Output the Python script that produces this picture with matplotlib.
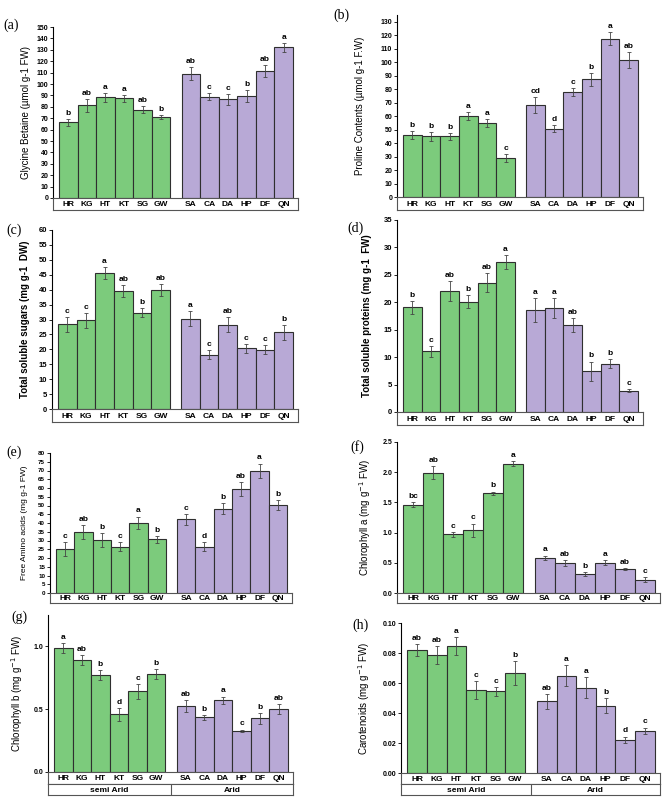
import numpy as np
import matplotlib
matplotlib.use("Agg")
import matplotlib.pyplot as plt
from matplotlib.patches import Rectangle

plt.rcParams['font.family'] = ['Liberation Sans', 'DejaVu Sans']

sites = ["HR", "KG", "HT", "KT", "SG", "GW", "SA", "CA", "DA", "HP", "DF", "QN"]
zones = ["semi Arid", "Arid"]

# (a) glycine betaine
gb = [66.3, 81.2, 88.3, 87.4, 77.4, 71.0, 109.1, 88.9, 86.5, 89.4, 111.4, 132.3]
gb_err = [3, 6, 4, 3, 3, 2, 6, 3, 5, 5, 5, 4]
gb_let = ["b", "ab", "a", "a", "ab", "b", "ab", "c", "c", "b", "ab", "a"]

# (b) proline
pro = [45.7, 44.9, 44.9, 60.0, 54.8, 29.1, 68.4, 50.6, 77.8, 87.2, 117.5, 101.7]
pro_err = [3, 3, 2.5, 3, 3, 3, 6, 2.5, 3, 5, 5, 6]
pro_let = ["b", "b", "b", "a", "a", "c", "cd", "d", "c", "b", "a", "ab"]

# (c) soluble sugars
sug = [28.4, 29.7, 45.7, 39.6, 32.2, 40.0, 30.3, 18.2, 28.2, 20.4, 19.9, 25.7]
sug_err = [2.5, 2.5, 2, 2, 1.5, 2, 2.5, 1.5, 2.5, 1.5, 1.5, 2.5]
sug_let = ["c", "c", "a", "ab", "b", "ab", "a", "c", "ab", "c", "c", "b"]

# (d) soluble proteins
prot = [19.1, 11.1, 22.1, 20.1, 23.6, 27.3, 18.6, 19.0, 15.8, 7.4, 8.8, 3.9]
prot_err = [1.2, 1.0, 1.8, 1.2, 1.8, 1.3, 2.2, 1.8, 1.3, 1.8, 0.8, 0.3]
prot_let = ["b", "c", "ab", "b", "ab", "a", "a", "a", "ab", "b", "b", "c"]

# (e) free amino acids
amino = [25.0, 34.9, 30.3, 26.5, 40.2, 30.7, 42.1, 26.5, 48.2, 59.4, 70.0, 50.3]
amino_err = [4, 4, 4, 2.5, 3.5, 2, 3, 2.5, 3, 4, 4, 3]
amino_let = ["c", "ab", "b", "c", "a", "b", "c", "d", "b", "ab", "a", "b"]

# (f) chlorophyll a
chla = [1.46, 1.99, 0.97, 1.04, 1.65, 2.14, 0.58, 0.49, 0.31, 0.50, 0.40, 0.22]
chla_err = [0.04, 0.11, 0.04, 0.11, 0.03, 0.04, 0.04, 0.05, 0.03, 0.04, 0.02, 0.04]
chla_let = ["bc", "ab", "c", "c", "b", "a", "a", "ab", "b", "a", "ab", "c"]

# (g) chlorophyll b
chlb = [0.987, 0.894, 0.775, 0.46, 0.643, 0.783, 0.524, 0.437, 0.571, 0.328, 0.426, 0.502]
chlb_err = [0.04, 0.04, 0.04, 0.05, 0.06, 0.04, 0.05, 0.02, 0.03, 0.01, 0.04, 0.04]
chlb_let = ["a", "ab", "b", "d", "c", "b", "ab", "b", "a", "c", "b", "ab"]

# (h) carotenoids
car = [0.0818, 0.0789, 0.0845, 0.0551, 0.0545, 0.0669, 0.0478, 0.0647, 0.0567, 0.0447, 0.0223, 0.0283]
car_err = [0.004, 0.006, 0.006, 0.006, 0.003, 0.008, 0.005, 0.007, 0.007, 0.005, 0.002, 0.002]
car_let = ["ab", "ab", "a", "c", "c", "b", "ab", "a", "a", "b", "d", "c"]

W, H = 669, 801
GREEN = "#7ccb7c"
PURPLE = "#b8a9d6"
EDGE = "#2f2f2f"

x = np.array([0, 1, 2, 3, 4, 5, 6.6, 7.6, 8.6, 9.6, 10.6, 11.6])
xlim = (-0.82, 12.37)

fig = plt.figure(figsize=(W / 100, H / 100), dpi=100)


def px_rect(l, t, r, b):
    return [l / W, (H - b) / H, (r - l) / W, (b - t) / H]


def panel(l, t, r, b, box_b, vals, errs, lets, ymax, yticks, fmt, ylabel, tag,
          tag_xy, lab_x, tick_fs=5, lab_fs=7, lab_bold=False, zone_b=None):
    ax = fig.add_axes(px_rect(l, t, r, b))
    colors = [GREEN] * 6 + [PURPLE] * 6
    ax.bar(x, vals, width=1.0, color=colors, edgecolor=EDGE, linewidth=0.8, zorder=2)
    ax.errorbar(x, vals, yerr=errs, fmt="none", ecolor="#444444", elinewidth=0.6,
                capsize=1.3, capthick=0.6, zorder=3)
    for xi, v, e, s in zip(x, vals, errs, lets):
        ax.annotate(s, (xi, v + e), xytext=(0, 1.5), textcoords="offset points",
                    ha="center", va="bottom", fontsize=6, fontweight="bold")
    ax.set_xlim(*xlim)
    ax.set_ylim(0, ymax)
    ax.set_yticks(yticks)
    ax.set_yticklabels([fmt.format(v) for v in yticks], fontsize=tick_fs,
                       fontweight="bold")
    ax.tick_params(axis="y", length=2, width=0.6, pad=1.5)
    ax.set_xticks([])
    for sp in ["top", "right", "bottom"]:
        ax.spines[sp].set_visible(False)
    ax.spines["left"].set_linewidth(0.8)
    ax.set_ylabel(ylabel, fontsize=lab_fs, fontweight="bold" if lab_bold else "normal")
    ax.yaxis.set_label_coords((lab_x - l) / (r - l), 0.5)

    # site label box under the bars
    bx = fig.add_axes(px_rect(l, b, r, box_b))
    bx.set_xlim(*xlim)
    bx.set_ylim(0, 1)
    bx.set_xticks([])
    bx.set_yticks([])
    for sp in bx.spines.values():
        sp.set_linewidth(0.8)
        sp.set_color("#555555")
    for xi, s in zip(x, sites):
        bx.text(xi, 0.45, s, ha="center", va="center", fontsize=6, fontweight="bold")

    if zone_b is not None:
        zx = fig.add_axes(px_rect(l, box_b, r, zone_b))
        zx.set_xlim(*xlim)
        zx.set_ylim(0, 1)
        zx.set_xticks([])
        zx.set_yticks([])
        for sp in zx.spines.values():
            sp.set_linewidth(0.8)
            sp.set_color("#555555")
        mid = (x[5] + x[6]) / 2
        zx.axvline(mid, color="#555555", lw=0.8)
        zx.text((xlim[0] + mid) / 2, 0.45, zones[0], ha="center", va="center",
                fontsize=6, fontweight="bold")
        zx.text((mid + xlim[1]) / 2, 0.45, zones[1], ha="center", va="center",
                fontsize=6, fontweight="bold")

    fig.text(tag_xy[0] / W, 1 - tag_xy[1] / H, tag, fontsize=10,
             family="Liberation Serif", ha="left", va="center")
    return ax


panel(53, 27, 298, 198, 210, gb, gb_err, gb_let, 150, np.arange(0, 151, 10), "{:.0f}",
      "Glycine Betaine (µmol g-1 FW)", "(a)", (3, 25), 31)
panel(397, 15, 643, 197, 210, pro, pro_err, pro_let, 135, np.arange(0, 131, 10), "{:.0f}",
      "Proline Contents (µmol g-1 F.W)", "(b)", (333, 15), 365)
panel(52, 230, 298, 409, 422, sug, sug_err, sug_let, 60, np.arange(0, 61, 5), "{:.0f}",
      "Total soluble sugars (mg g-1  DW)", "(c)", (6, 230), 30, tick_fs=5.5, lab_bold=True)
panel(397, 220, 643, 412, 425, prot, prot_err, prot_let, 35, np.arange(0, 36, 5), "{:.0f}",
      "Total soluble proteins (mg g-1  FW)", "(d)", (347, 228), 372, tick_fs=5.5,
      lab_bold=True)
panel(50, 453, 292, 593, 603, amino, amino_err, amino_let, 80, np.arange(0, 81, 5), "{:.0f}",
      "Free Amino acids (mg g-1 FW)", "(e)", (6, 452), 28, tick_fs=4.5, lab_fs=6)
panel(397, 442, 660, 593, 603, chla, chla_err, chla_let, 2.5, np.arange(0, 2.51, 0.5),
      "{:.1f}", "Chlorophyll a (mg g$^{-1}$ FW)", "(f)", (350, 447), 373)
panel(48, 615, 293, 772, 784, chlb, chlb_err, chlb_let, 1.25, [0.0, 0.5, 1.0], "{:.1f}",
      "Chlorophyll b (mg g$^{-1}$ FW)", "(g)", (11, 617), 25, zone_b=795)
panel(401, 623, 660, 773, 784, car, car_err, car_let, 0.10, np.arange(0, 0.101, 0.02),
      "{:.2f}", "Carotenoids (mg g$^{-1}$ FW)", "(h)", (352, 625), 372, zone_b=795)

fig.savefig("out.png", dpi=100, facecolor="white")
